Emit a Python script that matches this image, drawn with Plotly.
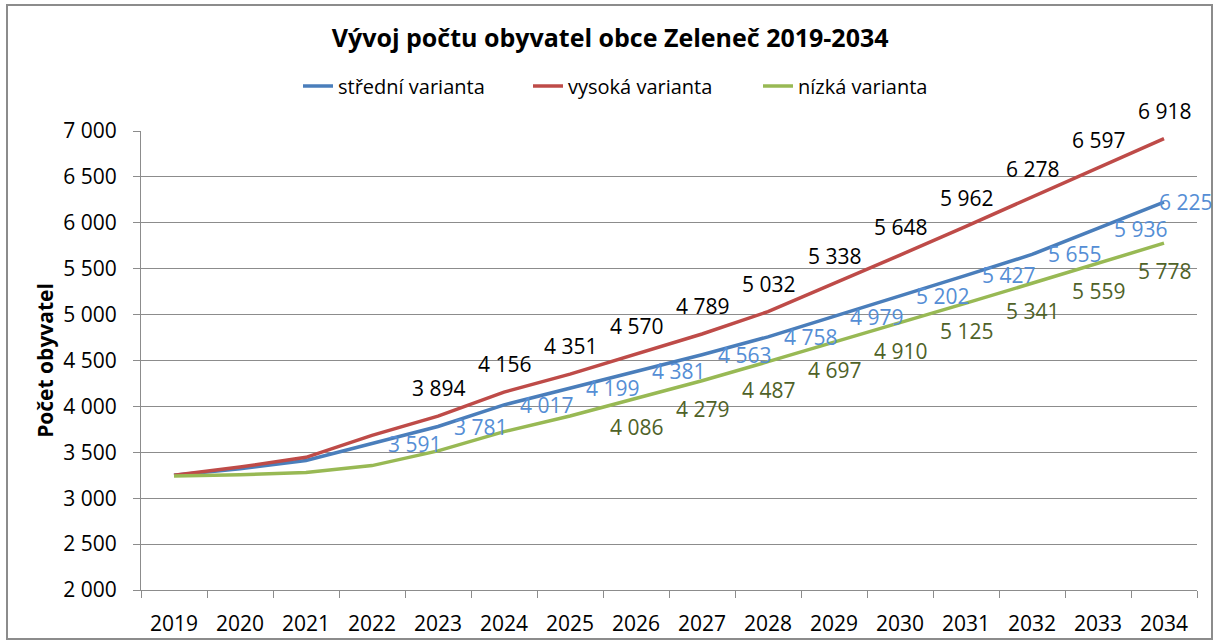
import plotly.graph_objects as go

YEARS = [str(y) for y in range(2019, 2035)]

STREDNI = [3250, 3320, 3410, 3591, 3781, 4017, 4199, 4381, 4563, 4758, 4979, 5202, 5427, 5655, 5936, 6225]
VYSOKA = [3250, 3340, 3445, 3685, 3894, 4156, 4351, 4570, 4789, 5032, 5338, 5648, 5962, 6278, 6597, 6918]
NIZKA = [3242, 3255, 3280, 3355, 3515, 3725, 3895, 4086, 4279, 4487, 4697, 4910, 5125, 5341, 5559, 5778]

# first year that carries a data label, per series
LABEL_FROM = {"střední varianta": "2022", "vysoká varianta": "2023", "nízká varianta": "2026"}

FONT = "Open Sans"
GRID = "#8C8C8C"


def _fmt(v):
    return f"{v:,}".replace(",", " ")


# name, values, line colour, label colour, label placement
series = [
    ("střední varianta", STREDNI, "#4A7EBB", "#558ED5", "right"),
    ("vysoká varianta", VYSOKA, "#BE4B48", "#000000", "above"),
    ("nízká varianta", NIZKA, "#98B954", "#4F6228", "below"),
]

fig = go.Figure()
for name, values, color, label_color, place in series:
    fig.add_trace(
        go.Scatter(
            x=YEARS,
            y=values,
            name=name,
            mode="lines",
            line={"color": color, "width": 3.5},
        )
    )
    start = YEARS.index(LABEL_FROM[name])
    for i in range(start, len(YEARS)):
        # category axis: annotation x is the category index
        ann = {
            "x": i,
            "y": values[i],
            "text": _fmt(values[i]),
            "showarrow": False,
            "font": {"color": label_color, "size": 21, "family": FONT},
        }
        if place == "right":
            last = i == len(YEARS) - 1
            ann.update(xanchor="left", yanchor="middle", xshift=-7 if last else 14)
        elif place == "above":
            ann.update(xanchor="center", yanchor="middle", yshift=28)
        else:
            ann.update(xanchor="center", yanchor="middle", yshift=-28)
        fig.add_annotation(**ann)

fig.update_layout(
    width=1213,
    height=640,
    paper_bgcolor="white",
    plot_bgcolor="white",
    font={"family": FONT, "color": "#000000", "size": 20},
    separators=", ",
    margin={"l": 141, "r": 16, "t": 131, "b": 50},
    title={
        "text": "<b>Vývoj počtu obyvatel obce Zeleneč 2019-2034</b>",
        "x": 0.503,
        "xanchor": "center",
        "y": 1 - 38 / 640,
        "yanchor": "middle",
        "font": {"size": 25, "family": FONT},
    },
    legend={
        "orientation": "h",
        "x": (298 - 141) / 1056,
        "xanchor": "left",
        "y": (590 - 86) / 459,
        "yanchor": "middle",
        "font": {"size": 20, "family": FONT},
        "traceorder": "normal",
        "itemwidth": 30,
        "entrywidth": 185,
    },
    showlegend=True,
)

fig.update_xaxes(
    type="category",
    range=[-0.5, 15.5],
    showline=True,
    linecolor=GRID,
    linewidth=1,
    ticks="outside",
    tickson="boundaries",
    ticklen=7,
    tickcolor=GRID,
    showgrid=False,
    tickfont={"size": 21},
    ticklabelstandoff=15,
    automargin=False,
)
fig.update_yaxes(
    range=[2000, 7000],
    dtick=500,
    tickformat=",d",
    showline=True,
    linecolor=GRID,
    ticks="outside",
    ticklen=7,
    tickcolor=GRID,
    showgrid=True,
    gridcolor=GRID,
    gridwidth=1,
    tickfont={"size": 21},
    ticklabelstandoff=12,
    title={"text": "<b>Počet obyvatel</b>", "font": {"size": 21}, "standoff": 3},
)

# outer chart frame
fig.add_shape(
    type="rect",
    xref="paper",
    yref="paper",
    x0=(7 - 141) / 1056,
    x1=(1212 - 141) / 1056,
    y0=-49 / 459,
    y1=(590 - 5) / 459,
    line={"color": GRID, "width": 2},
    fillcolor="rgba(0,0,0,0)",
    layer="below",
)

fig.write_html(
    "out.html",
    config={"displayModeBar": False},
    post_script="document.body.style.margin='0';",
)
